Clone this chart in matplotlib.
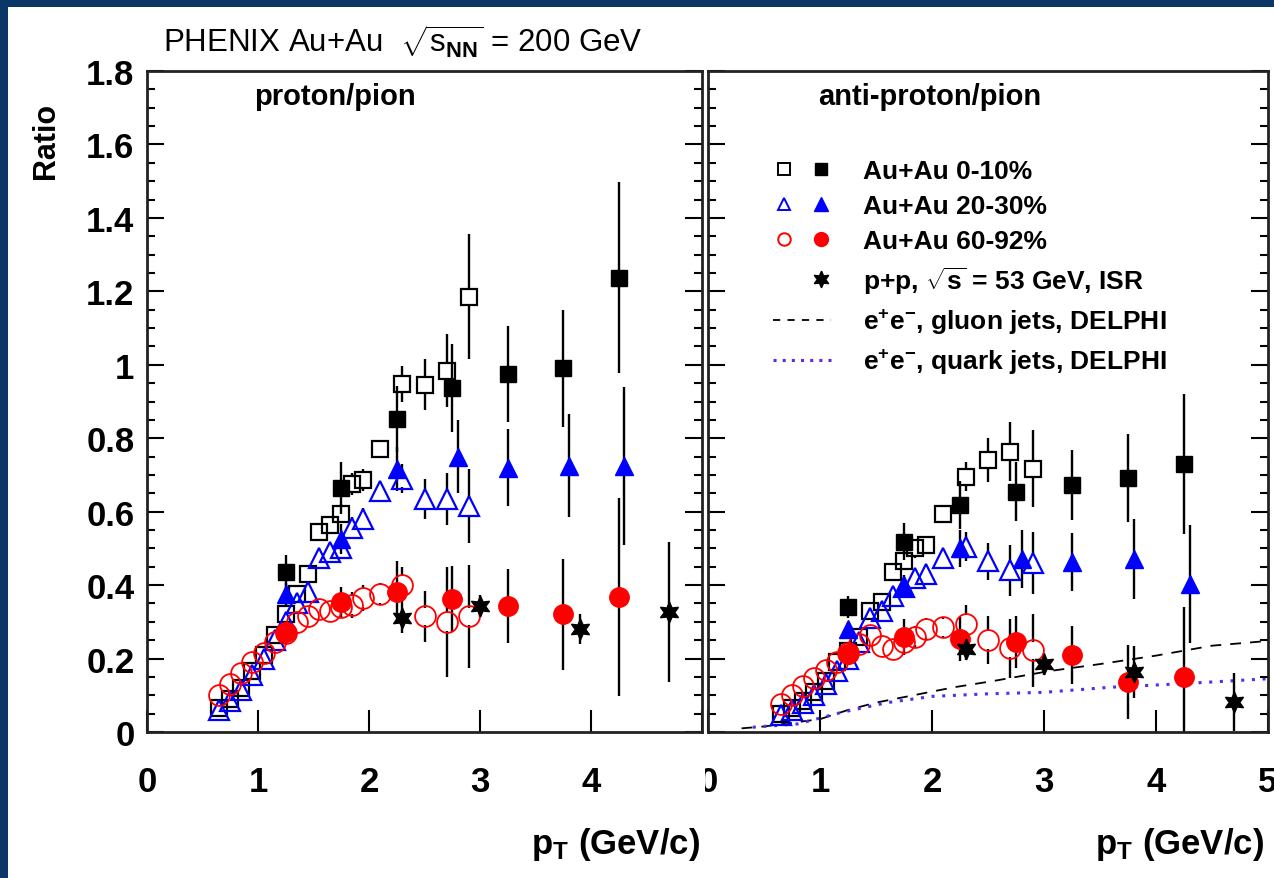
import numpy as np
import matplotlib
matplotlib.use("Agg")
import matplotlib.pyplot as plt
from matplotlib.lines import Line2D
from matplotlib.legend_handler import HandlerTuple
from matplotlib.patches import Rectangle
from matplotlib.transforms import Bbox, TransformedBbox

plt.rcParams['font.family'] = ['Liberation Sans', 'DejaVu Sans']
plt.rcParams['mathtext.fontset'] = 'custom'
plt.rcParams['mathtext.rm'] = 'Liberation Sans'
plt.rcParams['mathtext.it'] = 'Liberation Sans'
plt.rcParams['mathtext.bf'] = 'Liberation Sans:bold'

# ---- data ----
pt_open = [0.65, 0.75, 0.85, 0.95, 1.05, 1.15, 1.25, 1.35, 1.45, 1.55,
           1.65, 1.75, 1.85, 1.95, 2.1, 2.3, 2.5, 2.7, 2.9]
pt_fill = [1.25, 1.75, 2.25, 2.75, 3.25, 3.75, 4.25]
pt_fill_tri = [1.25, 1.75, 2.25, 2.8, 3.25, 3.8, 4.3]

# proton/pion (left)
p_sq_open = [0.065, 0.09, 0.12, 0.165, 0.21, 0.265, 0.32, 0.375, 0.43, 0.545,
             0.565, 0.595, 0.675, 0.685, 0.77, 0.948, 0.946, 0.984, 1.185]
p_sq_open_err = [0.005, 0.005, 0.005, 0.008, 0.008, 0.01, 0.01, 0.012, 0.012, 0.02,
                 0.02, 0.025, 0.03, 0.03, 0.02, 0.05, 0.07, 0.1, 0.17]
p_tri_open = [0.06, 0.085, 0.115, 0.155, 0.2, 0.25, 0.3, 0.35, 0.38, 0.475,
              0.49, 0.5, 0.555, 0.58, 0.655, 0.69, 0.635, 0.635, 0.615]
p_tri_open_err = [0.005, 0.005, 0.005, 0.008, 0.008, 0.01, 0.01, 0.012, 0.012, 0.02,
                  0.025, 0.03, 0.03, 0.03, 0.02, 0.04, 0.055, 0.07, 0.1]
p_cir_open = [0.1, 0.13, 0.16, 0.19, 0.215, 0.245, 0.27, 0.3, 0.315, 0.335,
              0.33, 0.34, 0.345, 0.365, 0.375, 0.4, 0.315, 0.3, 0.315]
p_cir_open_err = [0.005, 0.005, 0.005, 0.008, 0.008, 0.01, 0.01, 0.012, 0.012, 0.02,
                  0.025, 0.03, 0.035, 0.035, 0.03, 0.05, 0.07, 0.15, 0.14]
p_sq = [0.436, 0.665, 0.853, 0.937, 0.975, 0.99, 1.237]
p_sq_err = [0.045, 0.07, 0.09, 0.12, 0.13, 0.16, 0.26]
p_tri = [0.376, 0.526, 0.717, 0.75, 0.72, 0.725, 0.725]
p_tri_err = [0.03, 0.04, 0.06, 0.1, 0.105, 0.14, 0.215]
p_cir = [0.272, 0.354, 0.38, 0.362, 0.343, 0.32, 0.368]
p_cir_err = [0.02, 0.04, 0.085, 0.09, 0.1, 0.15, 0.27]
p_isr_pt = [2.3, 3.0, 3.9, 4.7]
p_isr = [0.31, 0.343, 0.28, 0.327]
p_isr_err = [0.04, 0.03, 0.04, 0.19]

# anti-proton/pion (right)
a_sq_open = [0.05, 0.065, 0.085, 0.11, 0.14, 0.19, 0.22, 0.26, 0.33, 0.355,
             0.435, 0.465, 0.5, 0.51, 0.595, 0.695, 0.74, 0.763, 0.717]
a_sq_open_err = [0.005, 0.005, 0.005, 0.006, 0.008, 0.008, 0.01, 0.01, 0.012, 0.015,
                 0.02, 0.025, 0.025, 0.025, 0.02, 0.04, 0.06, 0.08, 0.105]
a_tri_open = [0.045, 0.06, 0.08, 0.1, 0.13, 0.165, 0.2, 0.245, 0.31, 0.33,
              0.37, 0.395, 0.42, 0.43, 0.475, 0.505, 0.465, 0.44, 0.46]
a_tri_open_err = [0.005, 0.005, 0.005, 0.006, 0.008, 0.008, 0.01, 0.01, 0.012, 0.015,
                  0.02, 0.02, 0.025, 0.025, 0.02, 0.04, 0.05, 0.07, 0.085]
a_cir_open = [0.076, 0.1, 0.125, 0.148, 0.17, 0.19, 0.215, 0.24, 0.265, 0.235,
              0.225, 0.245, 0.26, 0.28, 0.285, 0.295, 0.25, 0.228, 0.222]
a_cir_open_err = [0.005, 0.005, 0.005, 0.006, 0.008, 0.008, 0.01, 0.01, 0.012, 0.02,
                  0.02, 0.025, 0.03, 0.03, 0.025, 0.05, 0.065, 0.08, 0.1]
a_sq = [0.34, 0.518, 0.619, 0.654, 0.673, 0.692, 0.73]
a_sq_err = [0.03, 0.05, 0.065, 0.08, 0.095, 0.12, 0.19]
a_tri = [0.28, 0.398, 0.5, 0.471, 0.463, 0.471, 0.403]
a_tri_err = [0.02, 0.03, 0.05, 0.08, 0.08, 0.11, 0.16]
a_cir = [0.212, 0.259, 0.253, 0.245, 0.21, 0.136, 0.15]
a_cir_err = [0.015, 0.05, 0.06, 0.07, 0.08, 0.1, 0.19]
a_isr_pt = [2.3, 3.0, 3.8, 4.7]
a_isr = [0.226, 0.185, 0.163, 0.082]
a_isr_err = [0.03, 0.03, 0.07, 0.08]

# DELPHI e+e- curves
gl_pt = [0.3, 0.5, 0.8, 1.0, 1.25, 1.5, 1.8, 2.2, 2.55, 3.05, 3.5, 4.0, 4.5, 5.0]
gl_r = [0.01, 0.015, 0.027, 0.035, 0.06, 0.08, 0.098, 0.122, 0.139, 0.166, 0.185, 0.208, 0.235, 0.248]
qk_pt = [0.4, 0.8, 1.2, 1.6, 2.0, 2.5, 3.0, 3.6, 4.2, 5.0]
qk_r = [0.013, 0.022, 0.054, 0.08, 0.097, 0.104, 0.108, 0.122, 0.131, 0.145]

labels = ['Au+Au 0-10%', 'Au+Au 20-30%', 'Au+Au 60-92%',
          r'p+p, $\sqrt{\mathbf{s}}$ = 53 GeV, ISR',
          r'$\mathbf{e}^{\mathbf{+}}\mathbf{e}^{\mathbf{-}}$, gluon jets, DELPHI',
          r'$\mathbf{e}^{\mathbf{+}}\mathbf{e}^{\mathbf{-}}$, quark jets, DELPHI']

BLUE = '#0000ff'
RED = '#ff0000'
VIOLET = '#5a2be8'


def bars(ax, x, y, e, gap):
    x, y, e = np.asarray(x), np.asarray(y), np.asarray(e)
    m = e > gap
    ax.vlines(x[m], y[m] + gap, y[m] + e[m], color='k', lw=1.7, zorder=2)
    ax.vlines(x[m], y[m] - e[m], y[m] - gap, color='k', lw=1.7, zorder=2)


def panel(ax, sq_o, sq_oe, tri_o, tri_oe, cir_o, cir_oe,
          sq, sqe, tri, trie, cir, cire, isr_pt, isr, isre):
    g = 0.024
    bars(ax, pt_open, sq_o, sq_oe, g)
    bars(ax, pt_open, tri_o, tri_oe, g)
    bars(ax, pt_open, cir_o, cir_oe, g)
    bars(ax, pt_fill, sq, sqe, 0)
    bars(ax, pt_fill_tri, tri, trie, 0)
    bars(ax, pt_fill, cir, cire, 0)
    bars(ax, isr_pt, isr, isre, 0)
    ax.plot(pt_open, sq_o, ls='none', marker='s', ms=11.5, mfc='none', mec='k', mew=1.6, zorder=3)
    ax.plot(pt_open, tri_o, ls='none', marker='^', ms=14, mfc='none', mec=BLUE, mew=1.6, zorder=3)
    ax.plot(pt_open, cir_o, ls='none', marker='o', ms=15, mfc='none', mec=RED, mew=1.3, zorder=3)
    ax.plot(pt_fill, sq, ls='none', marker='s', ms=11.5, color='k', zorder=4)
    ax.plot(pt_fill_tri, tri, ls='none', marker='^', ms=13.5, color=BLUE, zorder=4)
    ax.plot(pt_fill, cir, ls='none', marker='o', ms=14, color=RED, zorder=4)
    ax.plot(isr_pt, isr, ls='none', marker=(6, 1, 0), ms=15, color='k', zorder=5)

    ax.set_xlim(0, 5)
    ax.set_ylim(0, 1.8)
    ax.set_xticks([0, 1, 2, 3, 4, 5])
    ax.set_yticks(np.arange(0, 1.81, 0.2))
    ax.set_yticks(np.arange(0, 1.81, 0.05), minor=True)
    ax.tick_params(axis='y', which='both', direction='in', left=True, right=True, width=1.5)
    ax.tick_params(axis='y', which='major', length=12, labelsize=25, pad=9)
    ax.tick_params(axis='y', which='minor', length=6)
    ax.tick_params(axis='x', which='major', direction='in', length=16, width=1.5,
                   top=False, labelsize=25, pad=24)
    for s in ax.spines.values():
        s.set_linewidth(2.0)
        s.set_color('#222222')


fig = plt.figure(figsize=(12.74, 8.79), dpi=100, facecolor='#0b3768')
fig.patches.append(Rectangle((8 / 1274, 0), 1, 1 - 8 / 879, transform=fig.transFigure,
                             facecolor='white', edgecolor='none', zorder=-10))

ax1 = fig.add_axes([147 / 1274, 146 / 879, 555 / 1274, 661 / 879])
ax2 = fig.add_axes([708 / 1274, 146 / 879, 560 / 1274, 661 / 879])

panel(ax1, p_sq_open, p_sq_open_err, p_tri_open, p_tri_open_err, p_cir_open, p_cir_open_err,
      p_sq, p_sq_err, p_tri, p_tri_err, p_cir, p_cir_err, p_isr_pt, p_isr, p_isr_err)
panel(ax2, a_sq_open, a_sq_open_err, a_tri_open, a_tri_open_err, a_cir_open, a_cir_open_err,
      a_sq, a_sq_err, a_tri, a_tri_err, a_cir, a_cir_err, a_isr_pt, a_isr, a_isr_err)

ax2.plot(gl_pt, gl_r, color='k', ls=(0, (6, 5)), lw=1.3, zorder=1)
ax2.plot(qk_pt, qk_r, color=VIOLET, ls=(0, (1, 2.5)), lw=2.2, zorder=1)

ax1.set_xticklabels(['0', '1', '2', '3', '4', ''])
ax1.set_yticklabels(['0', '0.2', '0.4', '0.6', '0.8', '1', '1.2', '1.4', '1.6', '1.8'])
ax2.set_yticklabels([])
ax2.set_xticklabels(['0', '1', '2', '3', '4', '5'])
for lab in ax1.get_xticklabels() + ax1.get_yticklabels() + ax2.get_xticklabels():
    lab.set_fontweight('bold')

# right panel "0" label is partly hidden in the original
clip = TransformedBbox(Bbox([[705 / 1274, 0], [1, 1]]), fig.transFigure)
lab0 = ax2.xaxis.get_major_ticks()[0].label1
lab0.set_clip_box(clip)
lab0.set_clip_on(True)

ax1.text(0.193, 0.962, 'proton/pion', transform=ax1.transAxes, fontsize=21,
         fontweight='bold', ha='left', va='center')
ax2.text(0.197, 0.962, 'anti-proton/pion', transform=ax2.transAxes, fontsize=21,
         fontweight='bold', ha='left', va='center')

fig.text(163 / 1274, 1 - 42 / 879, r'PHENIX Au+Au  $\sqrt{\mathrm{s}_{\mathbf{NN}}}$ = 200 GeV',
         fontsize=22.5, ha='left', va='center')
fig.text(46 / 1274, 1 - 141 / 879, 'Ratio', rotation=90, fontsize=22, fontweight='bold',
         ha='center', va='center')
fig.text(700 / 1274, 1 - 845 / 879, r'$\mathbf{p}_{\mathbf{T}}$ (GeV/c)', fontsize=25,
         fontweight='bold', ha='right', va='center')
fig.text(1264 / 1274, 1 - 845 / 879, r'$\mathbf{p}_{\mathbf{T}}$ (GeV/c)', fontsize=25,
         fontweight='bold', ha='right', va='center')

# legend
nothing = Line2D([], [], ls='none', marker='none')
handles = [
    (Line2D([], [], ls='none', marker='s', ms=8, mfc='none', mec='k', mew=1.4),
     Line2D([], [], ls='none', marker='s', ms=9, color='k')),
    (Line2D([], [], ls='none', marker='^', ms=9, mfc='none', mec=BLUE, mew=1.4),
     Line2D([], [], ls='none', marker='^', ms=9.5, color=BLUE)),
    (Line2D([], [], ls='none', marker='o', ms=9, mfc='none', mec=RED, mew=1.4),
     Line2D([], [], ls='none', marker='o', ms=10, color=RED)),
    (nothing, Line2D([], [], ls='none', marker=(6, 1, 0), ms=12, color='k')),
    Line2D([], [], color='k', ls=(0, (4, 4)), lw=1.3),
    Line2D([], [], color=VIOLET, ls=(0, (1, 2)), lw=2.2),
]
leg = ax2.legend(handles, labels, handler_map={tuple: HandlerTuple(ndivide=None, pad=0.6)},
                 loc='upper left', bbox_to_anchor=(0.098, 0.883), frameon=False,
                 prop={'size': 19, 'weight': 'bold'}, handlelength=2.2, handletextpad=1.2,
                 labelspacing=0.42, borderaxespad=0)

fig.savefig('out.png', dpi=100, facecolor=fig.get_facecolor())
